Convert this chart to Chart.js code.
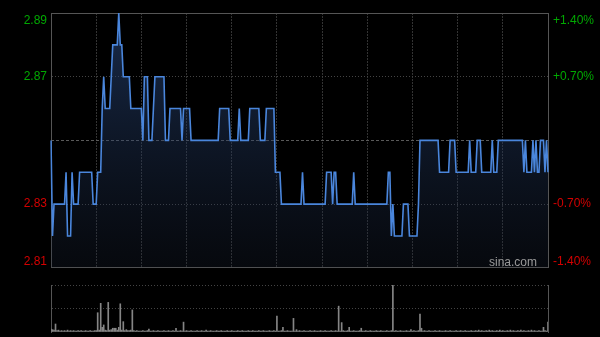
<!DOCTYPE html>
<html>
<head>
<meta charset="utf-8">
<script src="https://cdn.jsdelivr.net/npm/chart.js@4.4.0/dist/chart.umd.min.js"></script>
<style>
  html, body { margin: 0; padding: 0; background: #000; }
  #wrap { position: relative; width: 600px; height: 337px; background: #000; overflow: hidden; }
  #pricebox { position: absolute; left: 0; top: 0; width: 600px; height: 280px; }
  #volbox { position: absolute; left: 0; top: 278px; width: 600px; height: 59px; }
</style>
</head>
<body>
<div id="wrap">
  <div id="pricebox"><canvas id="price"></canvas></div>
  <div id="volbox"><canvas id="vol"></canvas></div>
</div>
<script>
const PREV_CLOSE = 2.85;

// one value per minute, 09:30-12:00 then 13:01-16:00
const prices = [
  2.85, 2.82, 2.83, 2.83, 2.83, 2.83, 2.83, 2.83, 2.83, 2.83, 2.84, 2.82, 2.82, 2.82, 2.84, 2.83, 2.83, 2.83, 2.83, 2.84, 2.84, 2.84, 2.84, 2.84, 2.84, 2.84, 2.84, 2.84, 2.83, 2.83,
  2.83, 2.84, 2.84, 2.84, 2.86, 2.87, 2.86, 2.86, 2.86, 2.86, 2.87, 2.88, 2.88, 2.88, 2.88, 2.89, 2.88, 2.88, 2.87, 2.87, 2.87, 2.87, 2.87, 2.86, 2.86, 2.86, 2.86, 2.86, 2.86, 2.86,
  2.86, 2.85, 2.87, 2.87, 2.87, 2.85, 2.85, 2.85, 2.86, 2.87, 2.87, 2.87, 2.87, 2.87, 2.87, 2.87, 2.85, 2.85, 2.85, 2.86, 2.86, 2.86, 2.86, 2.86, 2.86, 2.86, 2.86, 2.85, 2.86, 2.86,
  2.86, 2.86, 2.86, 2.85, 2.85, 2.85, 2.85, 2.85, 2.85, 2.85, 2.85, 2.85, 2.85, 2.85, 2.85, 2.85, 2.85, 2.85, 2.85, 2.85, 2.85, 2.85, 2.86, 2.86, 2.86, 2.86, 2.86, 2.86, 2.86, 2.85,
  2.85, 2.85, 2.85, 2.85, 2.85, 2.86, 2.85, 2.85, 2.85, 2.85, 2.85, 2.85, 2.86, 2.86, 2.86, 2.86, 2.86, 2.86, 2.86, 2.85, 2.85, 2.85, 2.85, 2.86, 2.86, 2.86, 2.86, 2.86, 2.86, 2.84,
  2.84, 2.84, 2.84, 2.83, 2.83, 2.83, 2.83, 2.83, 2.83, 2.83, 2.83, 2.83, 2.83, 2.83, 2.83, 2.83, 2.83, 2.84, 2.83, 2.83, 2.83, 2.83, 2.83, 2.83, 2.83, 2.83, 2.83, 2.83, 2.83, 2.83,
  2.83, 2.83, 2.83, 2.84, 2.84, 2.84, 2.84, 2.83, 2.84, 2.84, 2.83, 2.83, 2.83, 2.83, 2.83, 2.83, 2.83, 2.83, 2.83, 2.83, 2.83, 2.84, 2.83, 2.83, 2.83, 2.83, 2.83, 2.83, 2.83, 2.83,
  2.83, 2.83, 2.83, 2.83, 2.83, 2.83, 2.83, 2.83, 2.83, 2.83, 2.83, 2.83, 2.83, 2.83, 2.84, 2.84, 2.82, 2.83, 2.82, 2.82, 2.82, 2.82, 2.82, 2.82, 2.83, 2.83, 2.83, 2.83, 2.82, 2.82,
  2.82, 2.82, 2.82, 2.82, 2.83, 2.85, 2.85, 2.85, 2.85, 2.85, 2.85, 2.85, 2.85, 2.85, 2.85, 2.85, 2.85, 2.85, 2.84, 2.84, 2.84, 2.84, 2.84, 2.84, 2.84, 2.85, 2.85, 2.85, 2.85, 2.84,
  2.84, 2.84, 2.84, 2.84, 2.84, 2.84, 2.84, 2.84, 2.85, 2.84, 2.84, 2.84, 2.84, 2.85, 2.85, 2.85, 2.84, 2.84, 2.84, 2.84, 2.84, 2.84, 2.84, 2.85, 2.84, 2.84, 2.84, 2.85, 2.85, 2.85,
  2.85, 2.85, 2.85, 2.85, 2.85, 2.85, 2.85, 2.85, 2.85, 2.85, 2.85, 2.85, 2.85, 2.85, 2.84, 2.85, 2.84, 2.84, 2.84, 2.84, 2.85, 2.84, 2.85, 2.84, 2.84, 2.85, 2.85, 2.85, 2.84, 2.85, 2.84
];

// relative volume per minute (tallest bar = 100)
const volumes = [
  6, 5, 4, 17, 3, 4, 2, 3, 2, 3, 2, 4, 2, 3, 2, 3, 2, 2, 3, 2, 3, 2, 2, 3, 2, 2, 3, 2, 2, 3,
  3, 41, 4, 61, 10, 15, 4, 3, 63, 4, 5, 8, 8, 8, 4, 10, 60, 4, 22, 3, 5, 3, 3, 4, 47, 3, 2, 3, 2, 2,
  2, 3, 2, 2, 3, 6, 2, 2, 3, 2, 2, 3, 2, 2, 2, 3, 2, 2, 3, 2, 2, 3, 2, 8, 2, 2, 3, 2, 21, 2,
  3, 2, 2, 3, 2, 2, 2, 3, 2, 2, 3, 2, 2, 4, 2, 2, 3, 2, 2, 2, 3, 2, 2, 3, 2, 2, 2, 3, 2, 2,
  3, 2, 2, 2, 3, 2, 2, 3, 2, 2, 2, 3, 2, 2, 3, 2, 2, 2, 3, 2, 2, 3, 2, 2, 2, 3, 2, 2, 3, 2,
  34, 2, 2, 3, 10, 2, 2, 3, 2, 2, 2, 29, 2, 5, 2, 3, 2, 2, 3, 2, 2, 2, 3, 2, 2, 3, 2, 2, 2, 3,
  2, 2, 3, 2, 2, 2, 3, 2, 2, 3, 2, 55, 2, 20, 3, 2, 2, 3, 10, 2, 2, 3, 2, 2, 2, 3, 8, 2, 2, 3,
  2, 2, 3, 2, 2, 2, 3, 2, 2, 3, 2, 2, 2, 3, 2, 2, 3, 100, 2, 3, 2, 2, 3, 2, 2, 2, 3, 2, 2, 5,
  2, 3, 2, 2, 3, 38, 8, 2, 3, 2, 2, 3, 2, 2, 2, 3, 2, 2, 3, 2, 2, 2, 3, 2, 2, 3, 2, 2, 2, 3,
  2, 2, 3, 2, 2, 3, 2, 2, 2, 3, 2, 2, 3, 2, 4, 2, 3, 2, 2, 3, 2, 4, 2, 3, 2, 2, 3, 2, 4, 2,
  3, 2, 2, 3, 2, 4, 2, 3, 2, 2, 3, 2, 4, 2, 3, 2, 2, 3, 2, 4, 2, 3, 2, 2, 3, 2, 2, 10, 3, 2, 21
];

const priceTicks = [2.81, 2.83, 2.85, 2.87, 2.89];
const priceTickLabels = ["2.81", "2.83", "", "2.87", "2.89"];
const pctTickLabels = ["-1.40%", "-0.70%", "", "+0.70%", "+1.40%"];

const UP = "#00a800";
const DOWN = "#d40000";
const FRAME = "#555555";
const FONT = { family: "'Liberation Sans Narrow', 'Arial Narrow', 'Liberation Sans', sans-serif", size: 12 };
// top and bottom labels sit just inside the frame
const TOP_NUDGE = 0.0025;
const BOTTOM_NUDGE = 0.0019;

function minuteLabels() {
  const out = [];
  const add = (h, m) => out.push(String(h).padStart(2, "0") + ":" + String(m).padStart(2, "0"));
  for (let t = 9 * 60 + 30; t <= 12 * 60; t++) add(Math.floor(t / 60), t % 60);
  for (let t = 13 * 60 + 1; t <= 16 * 60; t++) add(Math.floor(t / 60), t % 60);
  return out;
}
const times = minuteLabels();

const pct = (p) => (p / PREV_CLOSE - 1) * 100;
const nudged = priceTicks.map((v, i) =>
  i === 0 ? v + BOTTOM_NUDGE : i === priceTicks.length - 1 ? v - TOP_NUDGE : v
);

function fillGradient(context) {
  const { ctx, chartArea } = context.chart;
  if (!chartArea) return "rgba(30,55,95,0.4)";
  const g = ctx.createLinearGradient(0, chartArea.top, 0, chartArea.bottom);
  g.addColorStop(0, "rgba(45,80,140,0.55)");
  g.addColorStop(1, "rgba(25,35,55,0.25)");
  return g;
}

const watermark = {
  id: "watermark",
  afterDatasetsDraw(chart) {
    const { ctx, chartArea } = chart;
    ctx.save();
    ctx.font = "12px " + FONT.family;
    ctx.fillStyle = "#9a9a9a";
    ctx.textAlign = "right";
    ctx.textBaseline = "alphabetic";
    ctx.fillText("sina.com", chartArea.right - 11, chartArea.bottom - 2);
    ctx.restore();
  }
};

const isHalfHour = (c) => c.index % 30 === 0 && c.index > 0 && c.index < times.length - 1;

new Chart(document.getElementById("price"), {
  type: "line",
  data: {
    labels: times,
    datasets: [{
      data: prices,
      borderColor: "#4a86dc",
      borderWidth: 1.6,
      pointRadius: 0,
      tension: 0,
      fill: "start",
      backgroundColor: fillGradient
    }]
  },
  options: {
    responsive: true,
    maintainAspectRatio: false,
    animation: false,
    devicePixelRatio: 1,
    layout: { padding: 0, autoPadding: false },
    plugins: { legend: { display: false }, tooltip: { enabled: false } },
    scales: {
      x: {
        offset: false,
        ticks: { display: false, autoSkip: false },
        grid: { color: (c) => (isHalfHour(c) ? "#333333" : "transparent"), drawTicks: false },
        border: { color: FRAME, dash: [2, 1] },
        afterFit: (s) => { s.height = 9; }
      },
      xTop: {
        type: "linear",
        position: "top",
        min: 0,
        max: 1,
        ticks: { display: false },
        grid: { display: false, drawTicks: false },
        border: { display: true, color: FRAME },
        afterFit: (s) => { s.height = 13; }
      },
      y: {
        position: "left",
        min: priceTicks[0],
        max: priceTicks[priceTicks.length - 1],
        afterBuildTicks: (s) => { s.ticks = nudged.map((v) => ({ value: v })); },
        ticks: {
          callback: (v, i) => priceTickLabels[i],
          color: (c) => (c.tick.value > PREV_CLOSE ? UP : DOWN),
          font: FONT,
          padding: 4
        },
        grid: { color: (c) => (c.index === 1 || c.index === 3 ? "#444444" : "transparent"), drawTicks: false },
        border: { color: FRAME, dash: [1, 2] },
        afterFit: (s) => { s.width = 51; }
      },
      yPct: {
        position: "right",
        min: pct(priceTicks[0]),
        max: pct(priceTicks[priceTicks.length - 1]),
        afterBuildTicks: (s) => { s.ticks = nudged.map((v) => ({ value: pct(v) })); },
        ticks: {
          callback: (v, i) => pctTickLabels[i],
          color: (c) => (c.tick.value > 0 ? UP : DOWN),
          font: FONT,
          padding: 5
        },
        grid: { color: (c) => (c.index === 2 ? "#5a5a5a" : "transparent"), drawTicks: false },
        border: { color: FRAME, dash: [3, 2] },
        afterFit: (s) => { s.width = 52; }
      }
    }
  },
  plugins: [watermark]
});

const volMax = Math.max(...volumes);

new Chart(document.getElementById("vol"), {
  type: "bar",
  data: {
    labels: times,
    datasets: [{
      data: volumes,
      backgroundColor: "#858585",
      barThickness: 1,
      borderWidth: 0
    }]
  },
  options: {
    responsive: true,
    maintainAspectRatio: false,
    animation: false,
    devicePixelRatio: 1,
    layout: { padding: { top: 7, bottom: 5 }, autoPadding: false },
    plugins: { legend: { display: false }, tooltip: { enabled: false } },
    scales: {
      x: { display: false, offset: false },
      y: {
        position: "left",
        min: 0,
        max: volMax,
        afterBuildTicks: (s) => { s.ticks = [0, volMax / 2, volMax].map((v) => ({ value: v })); },
        ticks: { display: false },
        grid: { color: (c) => (c.index === 0 ? "transparent" : "#444444"), drawTicks: false },
        border: { color: FRAME, dash: [1, 2] },
        afterFit: (s) => { s.width = 51; }
      },
      yR: {
        position: "right",
        min: 0,
        max: 1,
        ticks: { display: false },
        grid: { display: false, drawTicks: false },
        border: { display: true, color: FRAME },
        afterFit: (s) => { s.width = 52; }
      }
    }
  }
});
</script>
</body>
</html>
